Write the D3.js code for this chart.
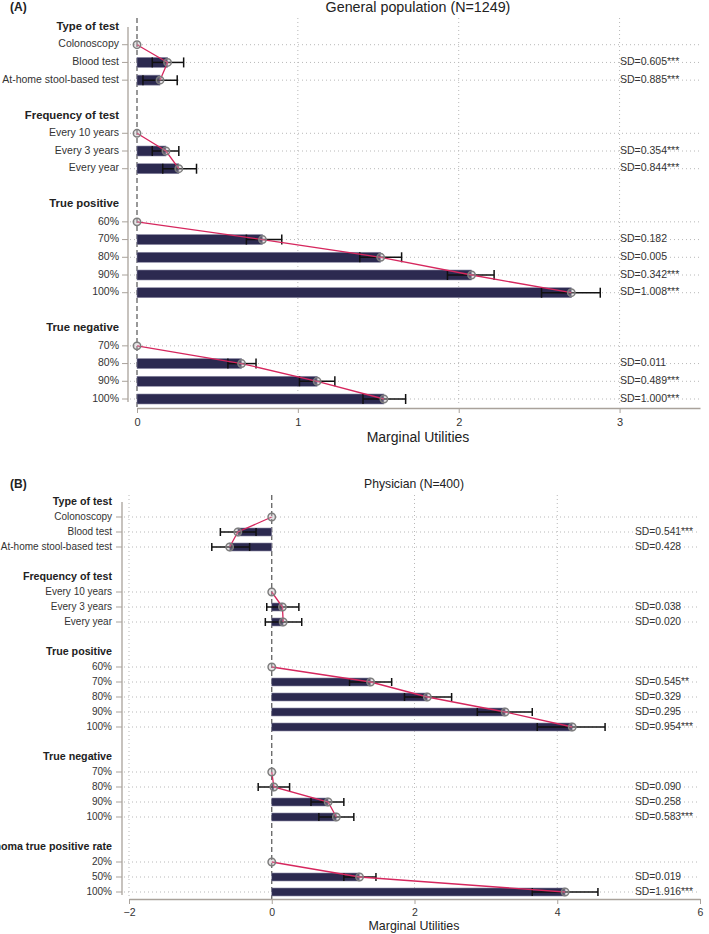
<!DOCTYPE html>
<html><head><meta charset="utf-8">
<script src="https://cdn.jsdelivr.net/npm/d3@7"></script>
<style>body{margin:0;background:#fff;}svg{display:block;font-family:"Liberation Sans",Arial,sans-serif;}</style>
</head><body>
<script>
// ---------- Panel A data ----------
const groupsA = ["Type of test","Frequency of test","True positive","True negative"];
const levelsA = [["Colonoscopy","Blood test","At-home stool-based test"],["Every 10 years","Every 3 years","Every year"],["60%","70%","80%","90%","100%"],["70%","80%","90%","100%"]];
const estA  = [[0,0.19,0.143],[0,0.18,0.26],[0,0.78,1.515,2.08,2.70],[0,0.65,1.12,1.535]];
const lowA  = [[null,0.095,0.037],[null,0.095,0.16],[null,0.68,1.385,1.93,2.515],[null,0.565,1.01,1.405]];
const highA = [[null,0.29,0.25],[null,0.26,0.37],[null,0.90,1.645,2.22,2.88],[null,0.74,1.23,1.67]];
const sdA   = [[null,"SD=0.605***","SD=0.885***"],[null,"SD=0.354***","SD=0.844***"],[null,"SD=0.182","SD=0.005","SD=0.342***","SD=1.008***"],[null,"SD=0.011","SD=0.489***","SD=1.000***"]];
const ticksA = [0,1,2,3];

// ---------- Panel B data ----------
const groupsB = ["Type of test","Frequency of test","True positive","True negative","Adenoma true positive rate"];
const levelsB = [["Colonoscopy","Blood test","At-home stool-based test"],["Every 10 years","Every 3 years","Every year"],["60%","70%","80%","90%","100%"],["70%","80%","90%","100%"],["20%","50%","100%"]];
const estB  = [[0,-0.475,-0.59],[0,0.15,0.16],[0,1.385,2.18,3.27,4.21],[0,0.03,0.79,0.905],[0,1.23,4.11]];
const lowB  = [[null,-0.72,-0.84],[null,-0.07,-0.09],[null,1.09,1.86,2.88,3.72],[null,-0.19,0.55,0.66],[null,1.01,3.65]];
const highB = [[null,-0.22,-0.31],[null,0.38,0.42],[null,1.68,2.52,3.65,4.67],[null,0.25,1.01,1.15],[null,1.46,4.57]];
const sdB   = [[null,"SD=0.541***","SD=0.428"],[null,"SD=0.038","SD=0.020"],[null,"SD=0.545**","SD=0.329","SD=0.295","SD=0.954***"],[null,"SD=0.090","SD=0.258","SD=0.583***"],[null,"SD=0.019","SD=1.916***"]];
const ticksB = [-2,0,2,4,6];

const W = 709, H = 934;
const svg = d3.select("body").append("svg").attr("width", W).attr("height", H);

const BAR = "#2c2a50", LINE = "#d6275e", TXT = "#333", AXIS = "#a9a29b", GRID = "#b8b8b8";

function panel(cfg) {
  const g = svg.append("g");
  const rows = [];
  cfg.groups.forEach((gn, gi) => {
    rows.push({type: "head", label: gn});
    cfg.levels[gi].forEach((lv, li) => rows.push({type: "lvl", label: lv, gi, li,
      est: cfg.est[gi][li], lo: cfg.low[gi][li], hi: cfg.high[gi][li], sd: cfg.sd[gi][li]}));
    if (gi < cfg.groups.length - 1) rows.push({type: "blank"});
  });
  rows.forEach((r, i) => r.i = i);
  const y = d3.scalePoint().domain(rows.map(r => r.i)).range(cfg.yRange);
  const x = d3.scaleLinear().domain(cfg.xDomain).range(cfg.xRange);
  const lv = rows.filter(r => r.type === "lvl");

  g.append("text").attr("x", 10).attr("y", cfg.titleY).attr("font-weight", "bold").attr("font-size", 12)
    .attr("fill", "#222").attr("dominant-baseline", "middle").text(cfg.tag);
  g.append("text").attr("x", cfg.cx).attr("y", cfg.titleY).attr("font-size", cfg.titleSize).attr("fill", "#222")
    .attr("text-anchor", "middle").attr("dominant-baseline", "middle").text(cfg.title);

  g.selectAll(".hg").data(lv).join("line")
    .attr("x1", cfg.yAxisX + 2).attr("x2", 700).attr("y1", d => y(d.i)).attr("y2", d => y(d.i))
    .attr("stroke", GRID).attr("stroke-width", 1).attr("stroke-dasharray", "1,3");
  g.selectAll(".vg").data(cfg.ticks.filter(t => t !== 0 && t !== cfg.xDomain[1])).join("line")
    .attr("x1", d => x(d)).attr("x2", d => x(d)).attr("y1", cfg.gridTop).attr("y2", cfg.xAxisY - 2)
    .attr("stroke", GRID).attr("stroke-width", 1).attr("stroke-dasharray", "1,3");
  g.append("line").attr("x1", x(0)).attr("x2", x(0)).attr("y1", cfg.gridTop).attr("y2", cfg.xAxisY)
    .attr("stroke", "#555").attr("stroke-width", 1.2).attr("stroke-dasharray", "5,3");

  g.selectAll(".bar").data(lv.filter(d => d.est !== 0)).join("rect")
    .attr("x", d => Math.min(x(0), x(d.est))).attr("width", d => Math.abs(x(d.est) - x(0)))
    .attr("y", d => y(d.i) - cfg.barH / 2).attr("height", cfg.barH)
    .attr("fill", BAR).attr("stroke", "#8d8ba5").attr("stroke-width", 0.6);

  const eb = lv.filter(d => d.lo !== null);
  g.selectAll(".eb").data(eb).join("line")
    .attr("x1", d => x(d.lo)).attr("x2", d => x(d.hi)).attr("y1", d => y(d.i)).attr("y2", d => y(d.i))
    .attr("stroke", "#111").attr("stroke-width", 1.5);
  ["lo", "hi"].forEach(k => {
    g.selectAll(".cap" + k).data(eb).join("line")
      .attr("x1", d => x(d[k])).attr("x2", d => x(d[k]))
      .attr("y1", d => y(d.i) - cfg.capH / 2).attr("y2", d => y(d.i) + cfg.capH / 2)
      .attr("stroke", "#111").attr("stroke-width", 1.5);
  });

  const line = d3.line().x(d => x(d.est)).y(d => y(d.i));
  cfg.groups.forEach((gn, gi) => {
    g.append("path").datum(lv.filter(d => d.gi === gi)).attr("d", line)
      .attr("fill", "none").attr("stroke", LINE).attr("stroke-width", 1.3);
  });
  g.selectAll(".pt").data(lv).join("circle")
    .attr("cx", d => x(d.est)).attr("cy", d => y(d.i)).attr("r", 3.7)
    .attr("fill", "rgba(190,180,185,0.35)").attr("stroke", "#7d7d7d").attr("stroke-width", 1.5);

  g.selectAll(".sd").data(lv.filter(d => d.sd)).join("text")
    .attr("x", cfg.sdX).attr("y", d => y(d.i)).attr("dominant-baseline", "middle")
    .attr("font-size", cfg.sdFs).attr("fill", TXT).text(d => d.sd);

  g.append("line").attr("x1", cfg.yAxisX).attr("x2", cfg.yAxisX).attr("y1", cfg.yRange[0]).attr("y2", cfg.yRange[1] + 3)
    .attr("stroke", AXIS).attr("stroke-width", 1.3);
  g.selectAll(".yt").data(lv).join("line")
    .attr("x1", cfg.yAxisX - 6).attr("x2", cfg.yAxisX).attr("y1", d => y(d.i)).attr("y2", d => y(d.i))
    .attr("stroke", AXIS).attr("stroke-width", 1);
  g.selectAll(".yl").data(rows.filter(r => r.type !== "blank")).join("text")
    .attr("x", cfg.yAxisX - cfg.labOff).attr("y", d => y(d.i)).attr("text-anchor", "end").attr("dominant-baseline", "middle")
    .attr("font-size", d => d.type === "head" ? cfg.headFs : cfg.fs)
    .attr("font-weight", d => d.type === "head" ? "bold" : "normal")
    .attr("fill", d => d.type === "head" ? "#222" : TXT).text(d => d.label);

  const ax = g.append("g").attr("transform", `translate(0,${cfg.xAxisY})`)
    .call(d3.axisBottom(x).tickValues(cfg.ticks).tickSize(5).tickSizeOuter(0).tickFormat(d3.format("d")));
  ax.select(".domain").attr("stroke", AXIS).attr("stroke-width", 1.3);
  ax.selectAll(".tick line").attr("stroke", AXIS);
  ax.selectAll(".tick text").attr("fill", TXT).attr("font-size", cfg.fs + 0.5).attr("font-family", "Liberation Sans, Arial, sans-serif").attr("dy", "0.9em");
  g.append("text").attr("x", cfg.cx).attr("y", cfg.xTitleY).attr("text-anchor", "middle").attr("dominant-baseline", "middle")
    .attr("font-size", cfg.xTitleSize).attr("fill", "#222").text("Marginal Utilities");
}

panel({tag: "(A)", title: "General population (N=1249)", titleY: 8, titleSize: 14.3, cx: 418,
  groups: groupsA, levels: levelsA, est: estA, low: lowA, high: highA, sd: sdA, ticks: ticksA,
  yRange: [27, 399], xDomain: [0, 3.5], xRange: [137, 700], yAxisX: 128, xAxisY: 408, gridTop: 18,
  barH: 10, capH: 10, sdX: 620, fs: 10.5, headFs: 11.3, sdFs: 10.5, labOff: 9, xTitleY: 438, xTitleSize: 14});

panel({tag: "(B)", title: "Physician (N=400)", titleY: 485, titleSize: 12.2, cx: 414,
  groups: groupsB, levels: levelsB, est: estB, low: lowB, high: highB, sd: sdB, ticks: ticksB,
  yRange: [502, 892], xDomain: [-2, 6], xRange: [129, 700], yAxisX: 122, xAxisY: 899, gridTop: 495,
  barH: 8, capH: 8, sdX: 635, fs: 10, headFs: 10.7, sdFs: 10.3, labOff: 10, xTitleY: 927, xTitleSize: 12.4});
</script>
</body></html>
